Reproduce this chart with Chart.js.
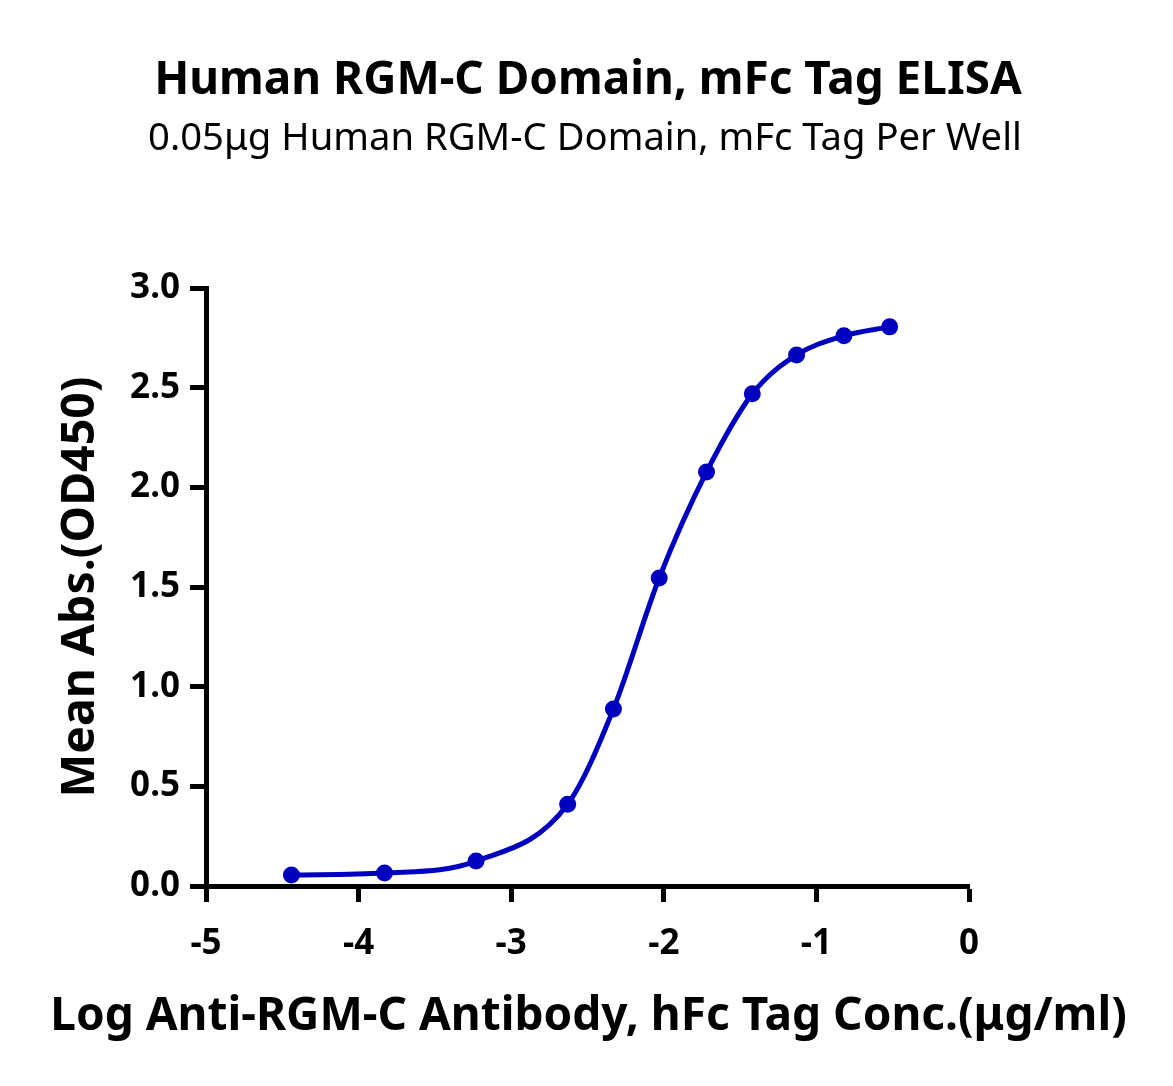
<!DOCTYPE html>
<html>
<head>
<meta charset="utf-8">
<script src="https://cdn.jsdelivr.net/npm/chart.js@4.4.1/dist/chart.umd.min.js"></script>
<style>
  html, body { margin: 0; padding: 0; background: #fff; }
  #wrap { width: 1173px; height: 1086px; }
</style>
</head>
<body>
<div id="wrap"><canvas id="elisa" width="1173" height="1086"></canvas></div>
<script>
// valores
var logConc = [-4.44, -3.83, -3.23, -2.63, -2.33, -2.03, -1.72, -1.42, -1.13, -0.82, -0.52];
var meanAbs = [0.055, 0.065, 0.125, 0.41, 0.888, 1.545, 2.077, 2.469, 2.664, 2.76, 2.805];
var xTicks = [-5, -4, -3, -2, -1, 0];
var yTicks = [0, 0.5, 1.0, 1.5, 2.0, 2.5, 3.0];

var titulo = 'Human RGM-C Domain, mFc Tag ELISA';
var subtitulo = '0.05μg Human RGM-C Domain, mFc Tag Per Well';
var tituloX = 'Log Anti-RGM-C Antibody, hFc Tag Conc.(μg/ml)';
var tituloY = 'Mean Abs.(OD450)';

var fuente = '"Noto Sans", sans-serif';
var azul = '#0000BF';

// tamaño de letra para que el texto ocupe el ancho del original
var medidor = document.createElement('canvas').getContext('2d');
function ajustarFuente(texto, peso, ancho) {
    medidor.font = peso + ' 100px ' + fuente;
    return 100 * ancho / medidor.measureText(texto).width;
}

var tamTitulo = ajustarFuente(titulo, 'bold', 868);
var tamSub = ajustarFuente(subtitulo, 'normal', 874);
var tamX = ajustarFuente(tituloX, 'bold', 1077);
var tamY = ajustarFuente(tituloY, 'bold', 421);

// titulo, subtitulo y titulo del eje X (mas ancho que el area del grafico)
var titulosPlugin = {
    id: 'titulos',
    afterDraw: function(chart) {
        var ctx = chart.ctx;
        ctx.save();
        ctx.fillStyle = '#000';
        ctx.textAlign = 'center';
        ctx.textBaseline = 'alphabetic';
        ctx.font = 'bold ' + tamTitulo + 'px ' + fuente;
        ctx.fillText(titulo, 588, 94);
        ctx.font = 'normal ' + tamSub + 'px ' + fuente;
        ctx.fillText(subtitulo, 585, 150);
        ctx.font = 'bold ' + tamX + 'px ' + fuente;
        ctx.fillText(tituloX, 588.5, 1030);
        ctx.restore();
    }
};

var puntos = logConc.map(function(x, i) {
    return { x: x, y: meanAbs[i] };
});

var ctx = document.getElementById('elisa').getContext('2d');
var myChart = new Chart(ctx, {
    type: 'scatter',
    data: {
        datasets: [{
            label: 'ELISA',
            data: puntos,
            showLine: true,
            cubicInterpolationMode: 'monotone',
            borderColor: azul,
            backgroundColor: azul,
            borderWidth: 5,
            pointRadius: 8.5,
            pointBorderWidth: 0,
            clip: false
        }]
    },
    options: {
        responsive: false,
        animation: false,
        devicePixelRatio: 1,
        layout: {
            padding: { top: 288, right: 204, bottom: 0, left: 0 }
        },
        plugins: {
            legend: { display: false },
            tooltip: { enabled: false }
        },
        scales: {
            x: {
                type: 'linear',
                min: -5,
                max: 0,
                afterBuildTicks: function(scale) {
                    scale.ticks = xTicks.map(function(v) { return { value: v }; });
                },
                afterFit: function(scale) { scale.height = 200; },
                border: { display: true, color: '#000', width: 5 },
                grid: {
                    drawOnChartArea: false,
                    drawTicks: true,
                    tickLength: 16,
                    tickWidth: 5,
                    tickColor: '#000'
                },
                ticks: {
                    color: '#000',
                    padding: 21,
                    font: { family: fuente, size: 35, weight: 'bold', lineHeight: 1.2 },
                    callback: function(v) { return String(v); }
                },
                title: { display: false }
            },
            y: {
                type: 'linear',
                min: 0,
                max: 3,
                afterBuildTicks: function(scale) {
                    scale.ticks = yTicks.map(function(v) { return { value: v }; });
                },
                afterFit: function(scale) { scale.width = 206; },
                border: { display: true, color: '#000', width: 5 },
                grid: {
                    drawOnChartArea: false,
                    drawTicks: true,
                    tickLength: 16,
                    tickWidth: 5,
                    tickColor: '#000'
                },
                ticks: {
                    color: '#000',
                    padding: 10,
                    font: { family: fuente, size: 35, weight: 'bold', lineHeight: 1.2 },
                    callback: function(v) { return v.toFixed(1); }
                },
                title: {
                    display: true,
                    text: tituloY,
                    color: '#000',
                    font: { family: fuente, size: tamY, weight: 'bold', lineHeight: 1.2 },
                    padding: { top: (94 - 0.285 * tamY) - 0.6 * tamY, bottom: 0 }
                }
            }
        }
    },
    plugins: [titulosPlugin]
});
</script>
</body>
</html>
